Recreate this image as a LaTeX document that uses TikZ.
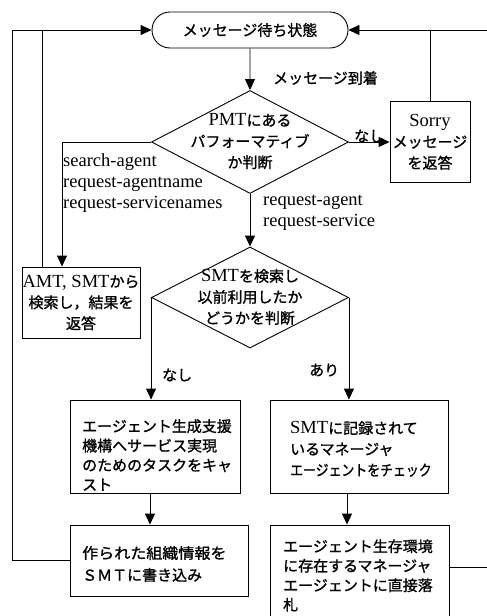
\documentclass[tikz,border=0pt]{standalone}
\usepackage{fontspec}
\usepackage{graphicx}
\setmainfont{Liberation Serif}
\newfontfamily\cjk[Scale=0.81,FakeBold=1.2]{Noto Sans CJK JP}
\usetikzlibrary{shapes.geometric,shapes.misc,arrows.meta}
\begin{document}
\begin{tikzpicture}[x=1pt,y=-1pt,
  txt/.style={font=\fontsize{18.5}{21}\selectfont, inner sep=0pt},
  jpl/.style={font=\fontsize{18.5}{19.5}\selectfont\cjk, inner sep=0pt},
  box/.style={draw, line width=0.9pt, inner sep=0pt},
  term/.style={draw, rounded rectangle, line width=0.9pt, inner sep=0pt},
  dia/.style={draw, diamond, line width=0.9pt, inner sep=0pt},
  arr/.style={-{Triangle[length=11pt,width=10pt]}, line width=0.9pt},
  ln/.style={line width=0.9pt}]
\useasboundingbox (0,0) rectangle (487,616);

% shapes
\node[term, minimum width=196pt, minimum height=36pt, jpl] (term) at (250,30) {メッセージ待ち状態};
\node[dia, minimum width=197pt, minimum height=103pt] (d1) at (250,142) {};
\node[txt, align=center] (d1t) at (250,141.5) {PMT{\cjk にある}\\{\cjk パフォーマティブ}\\{\cjk か判断}};
\node[box, txt, align=center, minimum width=80pt, minimum height=81pt] (sorry) at (430,142) {Sorry\\{\cjk メッセージ}\\{\cjk を返答}};
\node[box, txt, align=center, minimum width=118pt, minimum height=71pt] (amt) at (81,302.5) {AMT, SMT{\cjk から}\\{\cjk 検索し，結果を}\\{\cjk 返答}};
\node[dia, minimum width=197pt, minimum height=101pt] (d2) at (250,297.5) {};
\node[txt, align=center] (d2t) at (250,297) {SMT{\cjk を検索し}\\{\cjk 以前利用したか}\\{\cjk どうかを判断}};

\node[box, minimum width=170pt, minimum height=93pt] (boxL) at (155,446.5) {};
\node[jpl, align=left, anchor=west] (boxLt) at (82,455) {エージェント生成支援\\機構へサービス実現\\のためのタスクをキャ\\スト};
\node[box, minimum width=178pt, minimum height=93pt] (boxR) at (359,446.5) {};
\node[txt, align=left, anchor=west] (boxRt) at (290,449) {SMT{\cjk に記録されて}\\{\cjk いるマネージャ}\\\scalebox{0.86}[1]{\cjk エージェントをチェック}};
\node[box, minimum width=178pt, minimum height=71pt] (boxLL) at (159,560.5) {};
\node[jpl, align=left, anchor=west, font=\fontsize{18.5}{22}\selectfont\cjk] (boxLLt) at (82,564) {\scalebox{1.07}[1]{作られた組織情報を}\\ＳＭＴに書き込み};
\node[box, minimum width=179pt, minimum height=115pt] (boxRR) at (359.5,582.5) {};
\node[jpl, align=left, anchor=west] (boxRRt) at (283,575.5) {エージェント生存環境\\に存在するマネージャ\\エージェントに直接落\\札};

% labels
\node[jpl, anchor=west] (lab1) at (273,78) {メッセージ到着};
\node[jpl, anchor=west] (lab2) at (354,136) {なし};
\node[txt, align=left, anchor=west] (lab3) at (63,183) {search-agent\\request-agentname\\request-servicenames};
\node[txt, align=left, anchor=west] (lab4) at (263,213) {request-agent\\request-service};
\node[jpl, anchor=west] (lab5) at (162,375) {なし};
\node[jpl, anchor=west] (lab6) at (309,370) {あり};

% helper coordinates
\coordinate (re1) at (489,30);
\coordinate (re2) at (489,567);
\coordinate (ja) at (62,142);
\coordinate (lx2) at (42,30);
\coordinate (lx1) at (12,30);

% connectors
\draw[arr] (term) -- (d1);
\draw[arr] (d1.east) -- (sorry.west);
\draw[arr] (sorry.north) -- (sorry.north |- term.east) -- (term.east);
\draw[ln] (boxRR.east |- re2) -- (re2) -- (re1) -- (sorry.north |- term.east);
\draw[arr] (d1.west) -- (ja) -- (ja |- amt.north);
\draw[arr] (lx2 |- amt.north) -- (lx2) -- (term.west);
\draw[ln] (boxLL.west) -- (lx1 |- boxLL.west) -- (lx1) -- (lx2);
\draw[arr] (d1.south) -- (d2.north);
\draw[arr] (d2.west) -- (d2.west |- boxL.north);
\draw[arr] (d2.east) -- (d2.east |- boxR.north);
\draw[arr] ([xshift=-5pt]boxL.south) -- ([xshift=-5pt]boxL.south |- boxLL.north);
\draw[arr] ([xshift=-12pt]boxR.south) -- ([xshift=-12pt]boxR.south |- boxRR.north);
\end{tikzpicture}
\end{document}
